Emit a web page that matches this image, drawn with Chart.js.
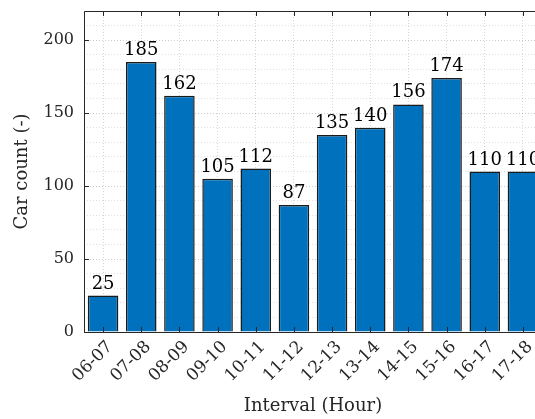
<!DOCTYPE html>
<html>
<head>
<meta charset="utf-8">
<script src="https://cdn.jsdelivr.net/npm/chart.js@4.4.0/dist/chart.umd.min.js"></script>
<style>
  html, body { margin: 0; padding: 0; background: #fff; overflow: hidden; }
  canvas { display: block; }
</style>
</head>
<body>
<canvas id="carChart" width="560" height="419"></canvas>
<script>
// Car counts per hour interval
const intervals = ['06-07', '07-08', '08-09', '09-10', '10-11', '11-12',
                   '12-13', '13-14', '14-15', '15-16', '16-17', '17-18'];
const carCounts = [25, 185, 162, 105, 112, 87, 135, 140, 156, 174, 110, 110];
const yMajorTicks = [0, 50, 100, 150, 200];

const serif = "'DejaVu Serif', 'Liberation Serif', serif";
const axisColor = '#262626';

// frame, inside tick marks and the value labels on top of the bars
const matlabLook = {
  id: 'matlabLook',
  afterDatasetsDraw(chart) {
    const ctx = chart.ctx;
    const area = chart.chartArea;
    const x = chart.scales.x;
    const y = chart.scales.y;

    ctx.save();
    ctx.strokeStyle = axisColor;
    ctx.lineWidth = 1;
    ctx.beginPath();
    ctx.rect(area.left + 0.5, area.top + 0.5, area.right - area.left, area.bottom - area.top);
    ctx.stroke();

    // ticks pointing into the plot
    ctx.beginPath();
    intervals.forEach((lab, i) => {
      const px = Math.round(x.getPixelForTick(i)) + 0.5;
      ctx.moveTo(px, area.bottom);
      ctx.lineTo(px, area.bottom - 5);
      ctx.moveTo(px, area.top);
      ctx.lineTo(px, area.top + 5);
    });
    yMajorTicks.forEach(v => {
      const py = Math.round(y.getPixelForValue(v)) + 0.5;
      ctx.moveTo(area.left, py);
      ctx.lineTo(area.left + 5, py);
      ctx.moveTo(area.right, py);
      ctx.lineTo(area.right - 5, py);
    });
    ctx.stroke();

    // values above the bars
    ctx.fillStyle = '#000';
    ctx.font = '18px ' + serif;
    ctx.textAlign = 'center';
    ctx.textBaseline = 'alphabetic';
    chart.getDatasetMeta(0).data.forEach((bar, i) => {
      ctx.fillText(String(carCounts[i]), bar.x, bar.y - 7);
    });
    ctx.restore();
  }
};

const ctx = document.getElementById('carChart').getContext('2d');
const myChart = new Chart(ctx, {
  type: 'bar',
  data: {
    labels: intervals,
    datasets: [{
      label: 'Car count',
      data: carCounts,
      backgroundColor: '#0072BD',
      borderColor: '#1a1a1a',
      borderWidth: 1.5,
      barPercentage: 0.8,
      categoryPercentage: 1.0
    }]
  },
  options: {
    responsive: false, // fixed size picture
    animation: false,
    layout: { padding: { left: 0, right: 18, top: 11, bottom: 0 } },
    plugins: {
      legend: { display: false },
      tooltip: { enabled: false }
    },
    scales: {
      x: {
        offset: true,
        grid: {
          offset: false,
          drawTicks: false,
          color: 'rgba(0,0,0,0.16)',
          lineWidth: 1
        },
        border: { display: false, dash: [1, 2] },
        ticks: {
          color: axisColor,
          font: { family: serif, size: 17 },
          minRotation: 45,
          maxRotation: 45,
          padding: 5,
          labelOffset: 7,
          autoSkip: false
        },
        title: {
          display: true,
          text: 'Interval (Hour)',
          color: axisColor,
          font: { family: serif, size: 18 },
          padding: { top: 0, bottom: 2 }
        },
        afterFit(scale) {
          scale.height = 87;
          scale.paddingLeft = 0;
          scale.paddingRight = 0;
        }
      },
      y: {
        min: 0,
        max: 220,
        grid: {
          drawTicks: false,
          color: c => (c.tick && c.tick.value % 50 === 0) ? 'rgba(0,0,0,0.2)' : 'rgba(0,0,0,0.12)',
          lineWidth: 1
        },
        border: { display: false, dash: [1, 2] },
        ticks: {
          stepSize: 10,
          autoSkip: false,
          color: axisColor,
          font: { family: serif, size: 16 },
          padding: 10,
          callback: v => (yMajorTicks.includes(v) ? v : '')
        },
        title: {
          display: true,
          text: 'Car count (-)',
          color: axisColor,
          font: { family: serif, size: 18 },
          padding: { top: 12, bottom: 0 }
        },
        afterFit(scale) {
          scale.width = 84;
          scale.paddingTop = 0;
          scale.paddingBottom = 0;
        }
      }
    }
  },
  plugins: [matlabLook]
});
</script>
</body>
</html>
